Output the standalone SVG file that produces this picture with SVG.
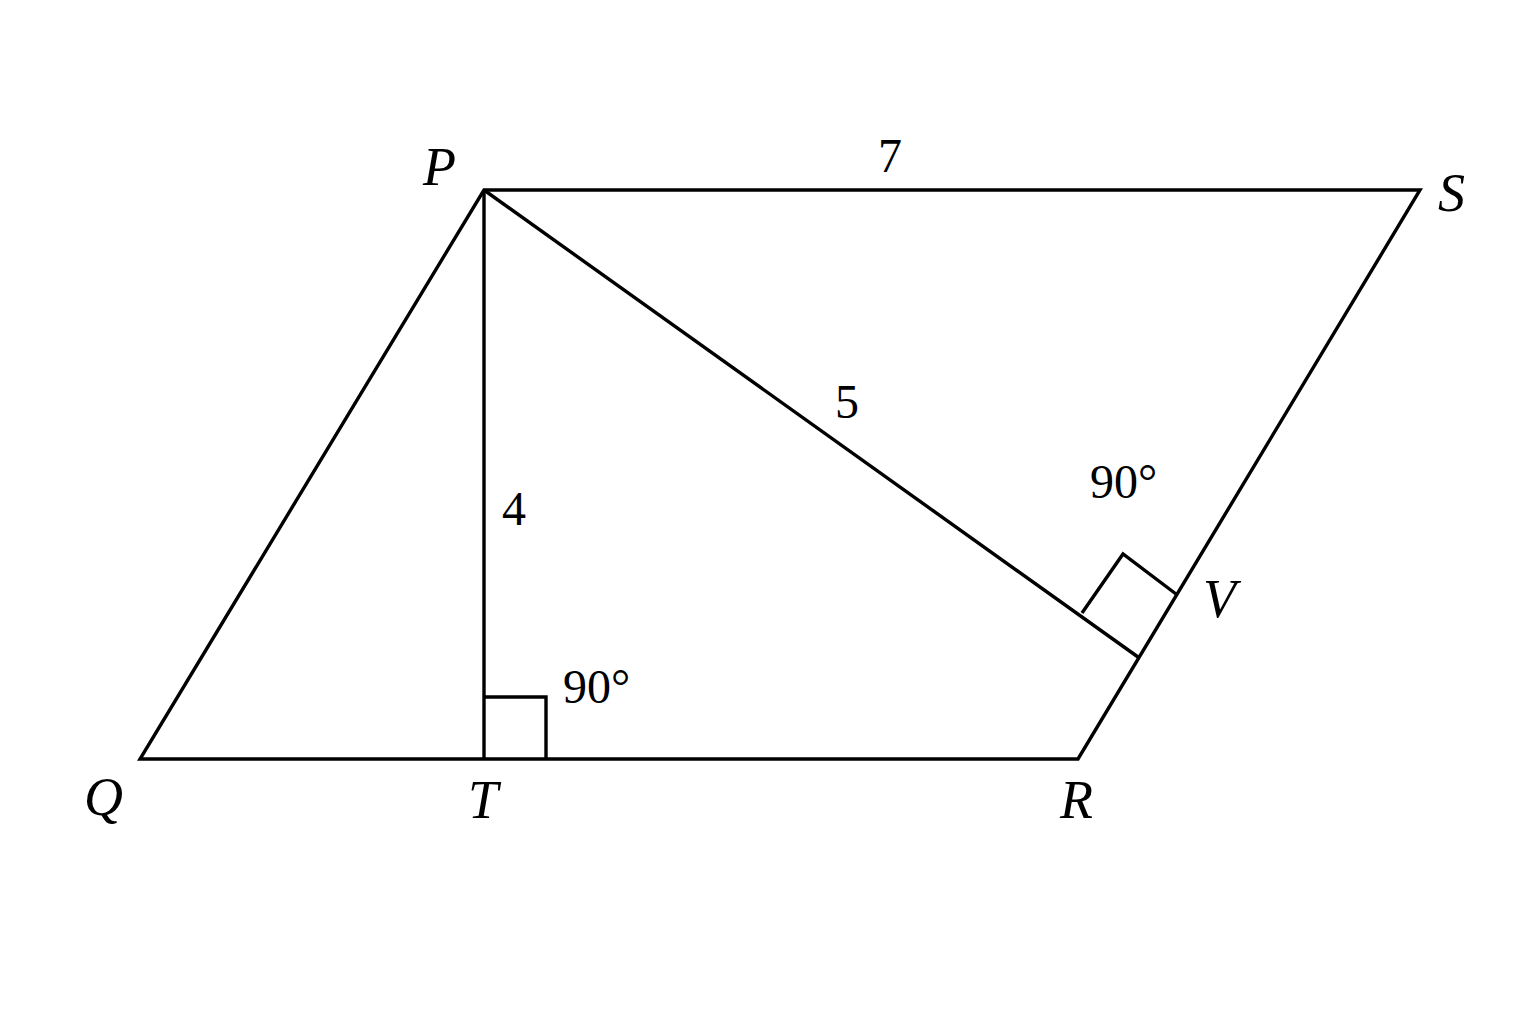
<svg xmlns="http://www.w3.org/2000/svg" width="1536" height="1024" viewBox="0 0 1536 1024">
<style>
.ln{stroke:#000;stroke-width:3.4;fill:none;stroke-linejoin:miter}
.lb{font-family:"Liberation Serif","Times New Roman",serif;font-style:italic;font-size:54px;fill:#000}
.nm{font-family:"Liberation Serif","Times New Roman",serif;font-size:48px;fill:#000}
</style>
<rect width="1536" height="1024" fill="#fff"/>
<g id="connectors">
<polygon class="ln" points="484,190 1420,190 1078,759 140,759"/>
<line class="ln" x1="484" y1="190" x2="484" y2="759"/>
<line class="ln" x1="484" y1="190" x2="1138" y2="657"/>
<polyline class="ln" points="484,697 546,697 546,759"/>
<polyline class="ln" points="1082,613 1123,554 1176,594"/>
</g>
<g id="P"><text class="lb" x="423" y="185">P</text></g>
<g id="S"><text class="lb" x="1438" y="211">S</text></g>
<g id="Q"><text class="lb" x="84" y="815">Q</text></g>
<g id="T"><text class="lb" x="468" y="818">T</text></g>
<g id="R"><text class="lb" x="1060" y="818">R</text></g>
<g id="V"><text class="lb" x="1203" y="617">V</text></g>
<g id="labels">
<text class="nm" x="878" y="172">7</text>
<text class="nm" x="835" y="418">5</text>
<text class="nm" x="502" y="525">4</text>
<text class="nm" x="1090" y="498">90°</text>
<text class="nm" x="563" y="703">90°</text>
</g>
</svg>
